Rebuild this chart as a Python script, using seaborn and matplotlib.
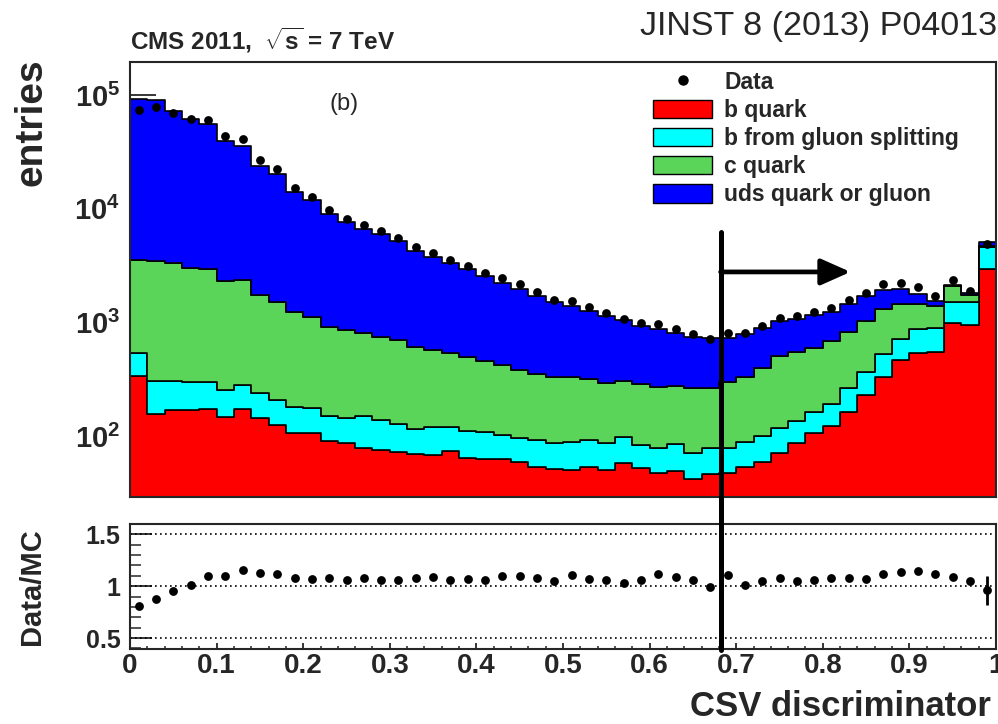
import numpy as np
import pandas as pd
import matplotlib
matplotlib.use("Agg")
import matplotlib.pyplot as plt
import matplotlib.transforms as mtransforms
from matplotlib.lines import Line2D
from matplotlib.patches import Patch
from matplotlib.ticker import FixedLocator, MultipleLocator, LogLocator, NullFormatter
import seaborn as sns

# ---- CSV discriminator histogram: 50 bins between 0 and 1 ----
bin_edges = np.linspace(0.0, 1.0, 51)
bin_centers = 0.5 * (bin_edges[:-1] + bin_edges[1:])

# simulated jet flavour contributions per bin (entries)
b_quark = [342, 158, 171, 170, 175, 149, 175, 146, 126, 107,
           108, 92, 88.5, 80, 76, 73, 70, 69, 74, 65,
           64, 63, 60, 53.5, 52, 51, 54, 50.5, 59, 53,
           47.5, 50, 42, 47, 47.5, 54, 60, 72, 87, 107,
           124, 165, 232, 336, 470, 545, 556, 986, 955, 2990]
b_gluon_splitting = [203, 152, 134, 130, 125, 109, 109, 97, 84, 73,
                     69, 60, 57.5, 71, 64, 55, 47, 51, 48, 47,
                     46, 40, 37, 39.5, 35, 39, 40, 36.5, 39, 30.5,
                     31.5, 36, 30, 32, 31.5, 36, 41, 47, 50, 58,
                     68, 100, 139, 191, 244, 330, 336, 545, 556, 1660]
c_quark = [2975, 3190, 3020, 2747, 2686, 2082, 2089, 1508, 1310, 1062,
           953, 771, 724, 661, 614, 572, 499, 459, 416, 386,
           351, 322, 289, 261, 249, 246, 228, 208, 210, 204.5,
           192, 190, 194, 187, 221, 246, 299, 391, 411, 440,
           501, 563, 664, 796, 755, 594, 501, 556, 251, 110]
uds_gluon = [87980, 87000, 69675, 58153, 52414, 37160, 33327, 22049, 18580, 12958,
             10840, 8057, 6750, 5848, 5256, 4500, 3664, 3201, 2812, 2467,
             2119, 1823, 1586, 1351, 1175, 1074, 954, 855, 742, 652,
             604, 536, 488, 463, 433, 464, 493, 515, 537, 555,
             557, 637, 670, 622, 506, 321, 142, 73, 53, 340]

# observed data per bin
data_counts = [73900, 79200, 69300, 61800, 60700, 43450, 41300, 26780, 22510, 15340,
               12810, 9700, 8060, 7190, 6370, 5490, 4600, 4120, 3565, 3170,
               2745, 2464, 2170, 1841, 1591, 1564, 1361, 1224, 1087, 1000,
               982, 885, 802, 725, 813, 808, 936, 1104, 1137, 1234,
               1346, 1582, 1831, 2182, 2253, 2060, 1712, 2348, 1902, 4906]

# uncertainty on the data/MC ratio
ratio_err = [0, 0, 0, 0, 0, 0, 0, 0, 0, 0,
             0, 0, 0, 0, 0, 0, 0, 0, 0, 0,
             0, 0, 0, 0, 0, 0, 0, 0, 0, 0,
             0, 0, 0, 0, 0, 0, 0, 0, 0, 0,
             0, 0, 0, 0, 0, 0, 0, 0, 0, 0.14]

flavour_labels = ["b quark", "b from gluon splitting", "c quark", "uds quark or gluon"]
flavour_colors = ["#ff0000", "#00ffff", "#5ad55a", "#0000ff"]
csv_cut = 0.682

# ---- long-form table for the stacked histogram ----
frames = []
for label, counts in zip(flavour_labels, [b_quark, b_gluon_splitting, c_quark, uds_gluon]):
    frames.append(pd.DataFrame({"csv": bin_centers, "entries": counts, "flavour": label}))
mc = pd.concat(frames, ignore_index=True)
mc_total = np.array(b_quark) + np.array(b_gluon_splitting) + np.array(c_quark) + np.array(uds_gluon)
data_arr = np.array(data_counts, dtype=float)
ratio = data_arr / mc_total

# ---- style ----
sns.set_style("ticks")
plt.rcParams["font.family"] = ["Liberation Sans", "DejaVu Sans"]
plt.rcParams["font.weight"] = "bold"
plt.rcParams["mathtext.fontset"] = "custom"
plt.rcParams["mathtext.rm"] = "Liberation Sans"
plt.rcParams["mathtext.bf"] = "Liberation Sans:bold"
plt.rcParams["axes.linewidth"] = 1.5

W, H = 998, 724
fig = plt.figure(figsize=(W / 100, H / 100), dpi=100)
ax_top = fig.add_axes([130 / W, 1 - 497 / H, 866 / W, 435 / H])
ax_rat = fig.add_axes([130 / W, 1 - 649 / H, 866 / W, 125 / H])

# stacked histogram (last hue level ends up at the bottom of the stack)
sns.histplot(data=mc, x="csv", weights="entries", hue="flavour",
             hue_order=flavour_labels[::-1],
             palette=dict(zip(flavour_labels, flavour_colors)),
             bins=bin_edges.tolist(), multiple="stack", element="step", fill=True,
             alpha=1, edgecolor="black", linewidth=1.2, legend=False, ax=ax_top)
ax_top.set_yscale("log")

# data points
sns.scatterplot(x=bin_centers, y=data_arr, color="black", s=40, linewidth=0,
                legend=False, ax=ax_top, zorder=5)
ax_top.errorbar(bin_centers, data_arr, yerr=np.sqrt(data_arr), fmt="none",
                ecolor="black", elinewidth=1.5, zorder=5)

ax_top.set_xlim(0, 1)
ax_top.set_ylim(29.4, 1.95e5)
ax_top.set_xlabel("")
ax_top.set_ylabel("")
ax_top.yaxis.set_major_locator(FixedLocator([1e2, 1e3, 1e4, 1e5]))
ax_top.set_yticklabels([r"$\mathbf{10^{2}}$", r"$\mathbf{10^{3}}$",
                        r"$\mathbf{10^{4}}$", r"$\mathbf{10^{5}}$"])
ax_top.yaxis.set_minor_locator(LogLocator(base=10, subs=np.arange(2, 10)))
ax_top.yaxis.set_minor_formatter(NullFormatter())
ax_top.xaxis.set_major_locator(MultipleLocator(0.1))
ax_top.xaxis.set_minor_locator(MultipleLocator(0.02))
ax_top.tick_params(axis="y", which="major", direction="in", length=19, width=1.3,
                   labelsize=21, pad=7)
ax_top.tick_params(axis="y", which="minor", direction="in", length=10, width=1.1)
ax_top.tick_params(axis="x", which="major", direction="in", length=8.5, width=1.3,
                   labelbottom=False)
ax_top.tick_params(axis="x", which="minor", direction="in", length=4, width=1.1)
for s in ax_top.spines.values():
    s.set_visible(True)
    s.set_linewidth(1.5)

ax_top.text(0.247, 0.904, "(b)", transform=ax_top.transAxes, fontsize=17,
            fontweight="normal", ha="center", va="center")

# working-point arrow
ax_top.annotate("", xy=(0.832, 2790), xytext=(csv_cut, 2790),
                arrowprops=dict(arrowstyle="-|>,head_length=1.8,head_width=0.8",
                                mutation_scale=10, lw=3.4, color="black",
                                shrinkA=0, shrinkB=0))

# legend
handles = [Line2D([0], [0], marker="o", color="black", linestyle="none", markersize=6.5)]
handles += [Patch(facecolor=c, edgecolor="black", linewidth=1.0) for c in flavour_colors]
ax_top.legend(handles, ["Data"] + flavour_labels, loc="upper left",
              bbox_to_anchor=(653 / W, 1 - 71 / H), bbox_transform=fig.transFigure,
              frameon=False, prop={"size": 16.5, "weight": "bold"},
              handlelength=2.58, handleheight=0.87, handletextpad=0.52,
              labelspacing=0.22, borderpad=0, borderaxespad=0)

# ---- ratio panel ----
for lvl in (0.5, 1.0, 1.5):
    ax_rat.axhline(lvl, color="black", linewidth=1.2, linestyle=(0, (1, 2)), zorder=1)
sns.scatterplot(x=bin_centers, y=ratio, color="black", s=40, linewidth=0,
                legend=False, ax=ax_rat, zorder=5)
ax_rat.errorbar(bin_centers, ratio, yerr=ratio_err, fmt="none", ecolor="black",
                elinewidth=2, zorder=5)
ax_rat.set_xlim(0, 1)
ax_rat.set_ylim(0.395, 1.6)
ax_rat.set_xlabel("")
ax_rat.set_ylabel("")
ax_rat.yaxis.set_major_locator(FixedLocator([0.5, 1.0, 1.5]))
ax_rat.set_yticklabels(["0.5", "1", "1.5"])
ax_rat.yaxis.set_minor_locator(MultipleLocator(0.1))
ax_rat.xaxis.set_major_locator(FixedLocator(np.round(np.arange(0, 1.01, 0.1), 1)))
ax_rat.set_xticklabels(["0", "0.1", "0.2", "0.3", "0.4", "0.5", "0.6", "0.7",
                        "0.8", "0.9", "1"])
ax_rat.xaxis.set_minor_locator(MultipleLocator(0.02))
ax_rat.tick_params(axis="y", which="major", direction="in", length=16, width=1.3,
                   labelsize=18, pad=7)
ax_rat.tick_params(axis="y", which="minor", direction="in", length=8, width=1.1)
ax_rat.tick_params(axis="x", which="major", direction="in", length=4, width=1.3,
                   labelsize=20, pad=3)
ax_rat.tick_params(axis="x", which="minor", direction="in", length=2, width=1.1)
for s in ax_rat.spines.values():
    s.set_visible(True)
    s.set_linewidth(1.5)

# vertical working-point line crossing both panels
blend = mtransforms.blended_transform_factory(ax_top.transData, fig.transFigure)
fig.lines.append(Line2D([csv_cut, csv_cut], [1 - 232 / H, 1 - 650 / H], transform=blend,
                        color="black", linewidth=3.6, zorder=10))

# ---- figure texts ----
fig.text(130 / W, 1 - 40 / H, r"CMS 2011,  $\mathbf{\sqrt{s}}$ = 7 TeV", fontsize=17.5,
         fontweight="bold", ha="left", va="center")
fig.text(0.999, 1 - 27 / H, "JINST 8 (2013) P04013", fontsize=24.5, fontweight="normal",
         ha="right", va="center")
fig.text(32 / W, 1 - 58 / H, "entries", rotation=90, fontsize=28, fontweight="bold",
         ha="center", va="top")
fig.text(32 / W, 1 - 587 / H, "Data/MC", rotation=90, fontsize=21, fontweight="bold",
         ha="center", va="center")
fig.text(991 / W, 1 - 706 / H, "CSV discriminator", fontsize=25, fontweight="bold",
         ha="right", va="center")

fig.savefig("out.png", dpi=100)
